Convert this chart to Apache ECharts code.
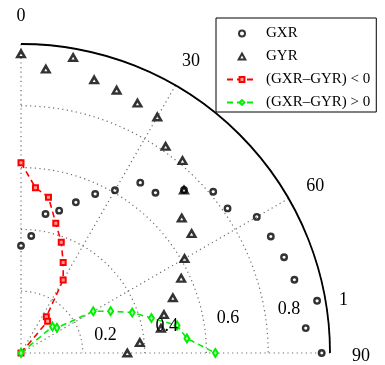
<!DOCTYPE html>
<html>
<head>
<meta charset="utf-8">
<script src="https://cdn.jsdelivr.net/npm/echarts@6/dist/echarts.min.js"></script>
<style>
  html, body { margin: 0; padding: 0; background: #fff; }
  #chart { width: 385px; height: 365px; }
</style>
</head>
<body>
<div id="chart"></div>
<script>
// Angles in degrees, 0 at the top, 90 to the right
const angles = [0, 5, 10, 15, 20, 25, 30, 35, 40, 45, 50, 55, 60, 65, 70, 75, 80, 85, 90];
const gxr = [0.347, 0.380, 0.457, 0.477, 0.519, 0.568, 0.608, 0.673, 0.677, 0.746,
             0.812, 0.816, 0.881, 0.892, 0.906, 0.916, 0.973, 0.925, 0.973];
const gyr = [0.968, 0.922, 0.971, 0.915, 0.905, 0.892, 0.882, 0.816, 0.813, 0.746,
             0.679, 0.674, 0.611, 0.572, 0.523, 0.479, 0.460, 0.386, 0.344];

// |GXR - GYR| where the difference is negative / positive
const negAngles = [0, 5, 10, 15, 20, 25, 30, 35, 40, 45];
const negDiff = [0.616, 0.537, 0.512, 0.435, 0.381, 0.323, 0.273, 0.143, 0.134, 0];
const posAngles = [45, 50, 55, 60, 65, 70, 75, 80, 85, 90];
const posDiff = [0, 0.133, 0.142, 0.270, 0.320, 0.383, 0.437, 0.513, 0.539, 0.629];

// Grid tick labels
const radiusTicks = [0.2, 0.4, 0.6, 0.8, 1];
const angleTicks = [0, 30, 60, 90];

const FONT = '"Liberation Serif", "Times New Roman", serif';
const GRID = { color: '#6a6a6a', width: 1.2, type: [1.2, 3.4] };
const TRIANGLE = 'path://M5,0 L10,9 L0,9 Z';

const toPolar = (rs, th) => rs.map((r, i) => [r, th[i]]);

// Text placed at a polar position; dx/dy nudge it, align/vAlign anchor it
function tickText(dx, dy, align, vAlign) {
  return function (params, api) {
    const p = api.coord([api.value(0), api.value(1)]);
    return {
      type: 'text', x: p[0] + dx, y: p[1] + dy, silent: true,
      style: {
        text: String(api.value(2)), align: align, verticalAlign: vAlign,
        fontFamily: FONT, fontSize: 18, fill: '#000'
      }
    };
  };
}

const chart = echarts.init(document.getElementById('chart'), null, { renderer: 'canvas' });

chart.setOption({
  animation: false,
  polar: { center: [21, 353], radius: 309 },
  angleAxis: {
    type: 'value', min: 0, max: 90, interval: 30,
    startAngle: 90, endAngle: 0, clockwise: true,
    axisLine: { show: true, lineStyle: { color: '#000', width: 1.8 } },
    axisTick: { show: false },
    axisLabel: { show: false },
    splitLine: { show: true, lineStyle: GRID }
  },
  radiusAxis: {
    type: 'value', min: 0, max: 1, interval: 0.2,
    axisLine: { show: false },
    axisTick: { show: false },
    axisLabel: { show: false },
    splitLine: { show: true, lineStyle: GRID }
  },
  legend: {
    orient: 'vertical',
    left: 216, top: 18,
    padding: [8, 6, 2, 10],
    itemWidth: 30, itemHeight: 6, itemGap: 8,
    symbolKeepAspect: true,
    backgroundColor: '#fff',
    borderColor: '#000', borderWidth: 1, borderRadius: 0,
    textStyle: { fontFamily: FONT, fontSize: 15, lineHeight: 14, color: '#000', padding: [0, 0, 0, 4] },
    data: [
      { name: 'GXR', icon: 'circle' },
      { name: 'GYR', icon: TRIANGLE },
      '(GXR\u2013GYR) < 0',
      '(GXR\u2013GYR) > 0'
    ]
  },
  series: [
    {
      name: 'GXR', type: 'scatter', coordinateSystem: 'polar',
      symbol: 'circle', symbolSize: 5.5,
      itemStyle: { color: 'rgba(255,255,255,0)', borderColor: '#000', borderWidth: 2.4 },
      data: toPolar(gxr, angles), z: 3
    },
    {
      name: 'GYR', type: 'scatter', coordinateSystem: 'polar',
      symbol: 'triangle', symbolSize: [7.5, 6.5],
      itemStyle: { color: 'rgba(255,255,255,0)', borderColor: '#000', borderWidth: 2.5 },
      data: toPolar(gyr, angles), z: 3
    },
    {
      name: '(GXR\u2013GYR) < 0', type: 'line', coordinateSystem: 'polar',
      symbol: 'rect', symbolSize: 5, showAllSymbol: true,
      lineStyle: { color: '#ff0000', width: 1.6, type: [6, 4] },
      itemStyle: { color: '#ff9a9a', borderColor: '#ff0000', borderWidth: 2 },
      data: toPolar(negDiff, negAngles), z: 4
    },
    {
      name: '(GXR\u2013GYR) > 0', type: 'line', coordinateSystem: 'polar',
      symbol: 'diamond', symbolSize: [5, 8], showAllSymbol: true,
      lineStyle: { color: '#00ee00', width: 1.6, type: [6, 4] },
      itemStyle: { color: '#b8ffb8', borderColor: '#00ee00', borderWidth: 2 },
      data: toPolar(posDiff, posAngles), z: 5
    },
    {
      // radius tick labels, set just off the 82-degree ray
      type: 'custom', coordinateSystem: 'polar', silent: true, z: 6,
      data: radiusTicks.map(r => [r + 0.01, 82, r]),
      renderItem: tickText(9, 0, 'left', 'bottom')
    },
    {
      // angle tick labels, centred outside the rim
      type: 'custom', coordinateSystem: 'polar', silent: true, z: 6,
      data: angleTicks.map(a => [1.1, a, a]),
      renderItem: tickText(0, 3, 'center', 'middle')
    }
  ]
});
</script>
</body>
</html>
